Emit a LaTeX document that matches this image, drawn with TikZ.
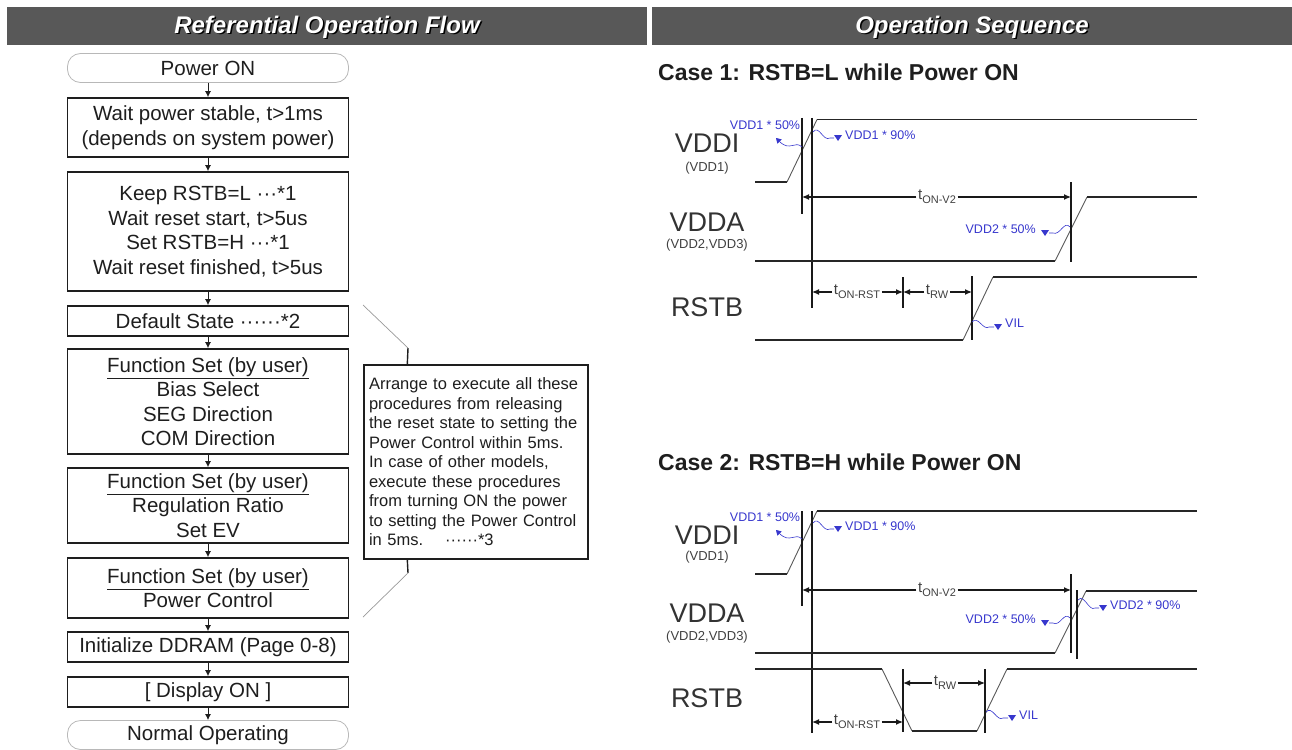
\documentclass[tikz,border=0pt]{standalone}
\usepackage{fontspec}
\setmainfont{Liberation Sans}
\usetikzlibrary{arrows.meta,calc}
\definecolor{hdr}{RGB}{88,88,88}
\definecolor{vblue}{RGB}{55,55,205}
\definecolor{ink}{RGB}{30,30,30}
\newcommand{\tlab}[1]{{\fontsize{15}{15}\selectfont t}\raisebox{-4pt}{\fontsize{11}{11}\selectfont #1}}
\newcommand{\jl}[1]{\makebox[214pt][s]{#1}}
\begin{document}
\begin{tikzpicture}[x=1pt,y=-1pt,
  htext/.style={font=\fontsize{24}{24}\selectfont\bfseries\itshape, inner sep=0pt, anchor=base},
  fbox/.style={draw=ink, line width=1.6pt, minimum width=281pt, inner sep=0pt, align=center, text=ink, font=\fontsize{20.5}{24.5}\selectfont},
  rbox/.style={draw=black!28, line width=0.8pt, rounded corners=13pt, minimum width=281pt, minimum height=29pt, inner sep=0pt, text=ink, font=\fontsize{20.5}{24.5}\selectfont},
  farrow/.style={-{Latex[length=6pt,width=6pt]}, line width=1pt, ink},
  notebox/.style={draw=ink, line width=1.4pt, fill=white, minimum width=224pt, minimum height=194pt, text width=214pt, inner sep=0pt, align=left, text=ink, font=\fontsize{16.5}{19.5}\selectfont},
  notelink/.style={draw=black!40, line width=0.7pt},
  notestub/.style={draw=ink, line width=1.4pt},
  ctitle/.style={font=\fontsize{23}{23}\selectfont\bfseries, text=ink, anchor=west, inner sep=0pt},
  siglab/.style={font=\fontsize{27}{27}\selectfont, text=black!80, inner sep=0pt},
  subsig/.style={font=\fontsize{13}{13}\selectfont, text=black!75, inner sep=0pt},
  wline/.style={line width=1.5pt, black!85},
  slope/.style={line width=0.9pt, black!65},
  marker/.style={line width=1.5pt, black!90},
  dimlab/.style={inner sep=1.5pt, text=black!75},
  dimarr/.style={-{Latex[length=7pt,width=6pt]}, line width=1.2pt, black!90},
  vwave/.style={vblue, line width=0.6pt},
  vtext/.style={font=\fontsize{12.5}{12.5}\selectfont, text=vblue, inner sep=0pt},
  vtri/.pic={\fill[vblue] (-4,-3) -- (4,-3) -- (0,3) -- cycle;}
]
\useasboundingbox (0,0) rectangle (1292,749);
% headers
\fill[hdr] (7,7) rectangle (647,45);
\fill[hdr] (652,7) rectangle (1292,45);
\node[htext, text=black] at (328.5,35) {Referential Operation Flow};
\node[htext, text=white] (h1) at (327,33.5) {Referential Operation Flow};
\node[htext, text=black] at (973.5,35) {Operation Sequence};
\node[htext, text=white] (h2) at (972,33.5) {Operation Sequence};

% flow chart
\node[rbox] (p0) at (208,68) {Power ON};
\node[fbox, minimum height=59pt] (p1) at (208,127.5) {Wait power stable, t>1ms\\(depends on system power)};
\node[fbox, minimum height=119pt] (p2) at (208,231.5) {Keep RSTB=L ···*1\\Wait reset start, t>5us\\Set RSTB=H ···*1\\Wait reset finished, t>5us};
\node[fbox, minimum height=30pt] (p3) at (208,321) {Default State ······*2};
\node[fbox, minimum height=105pt] (p4) at (208,401.5) {\underline{Function Set (by user)}\\Bias Select\\SEG Direction\\COM Direction};
\node[fbox, minimum height=75pt] (p5) at (208,505.5) {\underline{Function Set (by user)}\\Regulation Ratio\\Set EV};
\node[fbox, minimum height=60pt] (p6) at (208,588) {\underline{Function Set (by user)}\\Power Control};
\node[fbox, minimum height=30pt] (p7) at (208,647) {Initialize DDRAM (Page 0-8)};
\node[fbox, minimum height=30pt] (p8) at (208,692) {[ Display ON ]};
\node[rbox] (p9) at (208,735) {Normal Operating};
\foreach \a/\b in {p0/p1,p1/p2,p2/p3,p3/p4,p4/p5,p5/p6,p6/p7,p7/p8,p8/p9}
  \draw[farrow] (\a) -- (\b);

% note
\node[notebox] (note) at (476,462) {\jl{Arrange to execute all these}\\
\jl{procedures from releasing}\\
\jl{the reset state to setting the}\\
Power Control within 5ms.\\
\jl{In case of other models,}\\
\jl{execute these procedures}\\
\jl{from turning ON the power}\\
\jl{to setting the Power Control}\\
in 5ms.\hspace{22pt}······*3};
\coordinate (nt) at (363,305);
\coordinate (nb) at (363,617);
\coordinate (ntk) at (408,348);
\coordinate (nbk) at (408,573);
\draw[notelink] (nt) -- (ntk);
\draw[notestub] (ntk) -- ($(note.north west)+(44,0)$);
\draw[notestub] ($(note.south west)+(44,0)$) -- (nbk);
\draw[notelink] (nbk) -- (nb);

% ================= Case 1 =================
\node[ctitle] (c1) at (658,72) {Case 1: RSTB=L while Power ON};
\node[siglab] (a1) at (707,143) {VDDI};
\node[subsig] (a1s) at (707,168) {(VDD1)};
\node[siglab] (b1) at (707,222) {VDDA};
\node[subsig] (b1s) at (707,245) {(VDD2,VDD3)};
\node[siglab] (r1) at (707,307) {RSTB};
% VDDI
\draw[wline] (755,182) -- (787,182);
\draw[slope] (787,182) -- (817,119.5);
\draw[wline] (817,119.5) -- (1197,119.5);
\draw[marker] (802,118) -- (802,214);
\draw[marker] (812,118) -- (812,308);
% VDDA
\draw[wline] (755,261) -- (1055,261);
\draw[slope] (1055,261) -- (1087,197);
\draw[wline] (1087,197) -- (1197,197);
\draw[marker] (1071,182) -- (1071,262);
% RSTB
\draw[wline] (755,340) -- (963,340);
\draw[slope] (963,340) -- (993,277);
\draw[wline] (993,277) -- (1197,277);
\draw[marker] (903,277) -- (903,308);
\draw[marker] (972,276) -- (972,340);
% dims
\node[dimlab] (tv1) at (937,197) {\tlab{ON-V2}};
\draw[dimarr] (tv1.west) -- (802,197);
\draw[dimarr] (tv1.east) -- (1071,197);
\node[dimlab] (tr1) at (857,292) {\tlab{ON-RST}};
\draw[dimarr] (tr1.west) -- (812,292);
\draw[dimarr] (tr1.east) -- (903,292);
\node[dimlab] (tw1) at (937,292) {\tlab{RW}};
\draw[dimarr] (tw1.west) -- (903,292);
\draw[dimarr] (tw1.east) -- (972,292);
% blue tags
\node[vtext] (g1) at (765,125) {VDD1 * 50\%};
\draw[vwave, -{Triangle[length=5pt,width=6pt]}] (802,147) .. controls (795,140) and (790,152) .. (776,138);
\draw[vwave] (813,132) .. controls (819,124) and (823,142) .. (830,138) -- (834,138);
\pic at (838,138) {vtri};
\node[vtext, anchor=west] (g2) at (845,135) {VDD1 * 90\%};
\draw[vwave] (1070,227) .. controls (1064,220) and (1060,236) .. (1053,233) -- (1049,233);
\pic at (1045,233) {vtri};
\node[vtext, anchor=east] (g3) at (1036,229) {VDD2 * 50\%};
\draw[vwave] (972,322) .. controls (978,315) and (983,331) .. (989,327) -- (994,327);
\pic at (998,327) {vtri};
\node[vtext, anchor=west] (g4) at (1005,323) {VIL};

% ================= Case 2 =================
\node[ctitle] (c2) at (658,462) {Case 2: RSTB=H while Power ON};
\node[siglab] (a2) at (707,535) {VDDI};
\node[subsig] (a2s) at (707,557) {(VDD1)};
\node[siglab] (b2) at (707,613) {VDDA};
\node[subsig] (b2s) at (707,637) {(VDD2,VDD3)};
\node[siglab] (r2) at (707,698) {RSTB};
% VDDI
\draw[wline] (755,574) -- (787,574);
\draw[slope] (787,574) -- (817,511);
\draw[wline] (817,511) -- (1197,511);
\draw[marker] (802,511) -- (802,606);
\draw[marker] (812,511) -- (812,733);
% VDDA
\draw[wline] (755,653) -- (1055,653);
\draw[slope] (1055,653) -- (1086,591);
\draw[wline] (1086,591) -- (1197,591);
\draw[marker] (1071,574) -- (1071,653);
\draw[marker] (1077,590) -- (1077,659);
% RSTB
\draw[wline] (755,669) -- (882,669);
\draw[slope] (882,669) -- (912,731);
\draw[wline] (912,731) -- (977,731);
\draw[slope] (977,731) -- (1007,669);
\draw[wline] (1007,669) -- (1197,669);
\draw[marker] (903,669) -- (903,732);
\draw[marker] (985,669) -- (985,733);
% dims
\node[dimlab] (tv2) at (937,590) {\tlab{ON-V2}};
\draw[dimarr] (tv2.west) -- (802,590);
\draw[dimarr] (tv2.east) -- (1071,590);
\node[dimlab] (tr2) at (857,722) {\tlab{ON-RST}};
\draw[dimarr] (tr2.west) -- (812,722);
\draw[dimarr] (tr2.east) -- (903,722);
\node[dimlab] (tw2) at (945,683) {\tlab{RW}};
\draw[dimarr] (tw2.west) -- (903,683);
\draw[dimarr] (tw2.east) -- (985,683);
% blue tags
\node[vtext] (k1) at (765,517) {VDD1 * 50\%};
\draw[vwave, -{Triangle[length=5pt,width=6pt]}] (802,539) .. controls (795,532) and (790,544) .. (776,530);
\draw[vwave] (813,523) .. controls (819,515) and (823,533) .. (830,529) -- (834,529);
\pic at (838,529) {vtri};
\node[vtext, anchor=west] (k2) at (845,526) {VDD1 * 90\%};
\draw[vwave] (1070,618) .. controls (1064,611) and (1060,627) .. (1053,623) -- (1049,623);
\pic at (1045,623) {vtri};
\node[vtext, anchor=east] (k3) at (1036,619) {VDD2 * 50\%};
\draw[vwave] (1078,600) .. controls (1084,593) and (1089,612) .. (1095,608) -- (1099,608);
\pic at (1103,608) {vtri};
\node[vtext, anchor=west] (k4) at (1110,605) {VDD2 * 90\%};
\draw[vwave] (986,712) .. controls (992,705) and (997,722) .. (1003,718) -- (1008,718);
\pic at (1012,718) {vtri};
\node[vtext, anchor=west] (k5) at (1019,715) {VIL};
\end{tikzpicture}
\end{document}
